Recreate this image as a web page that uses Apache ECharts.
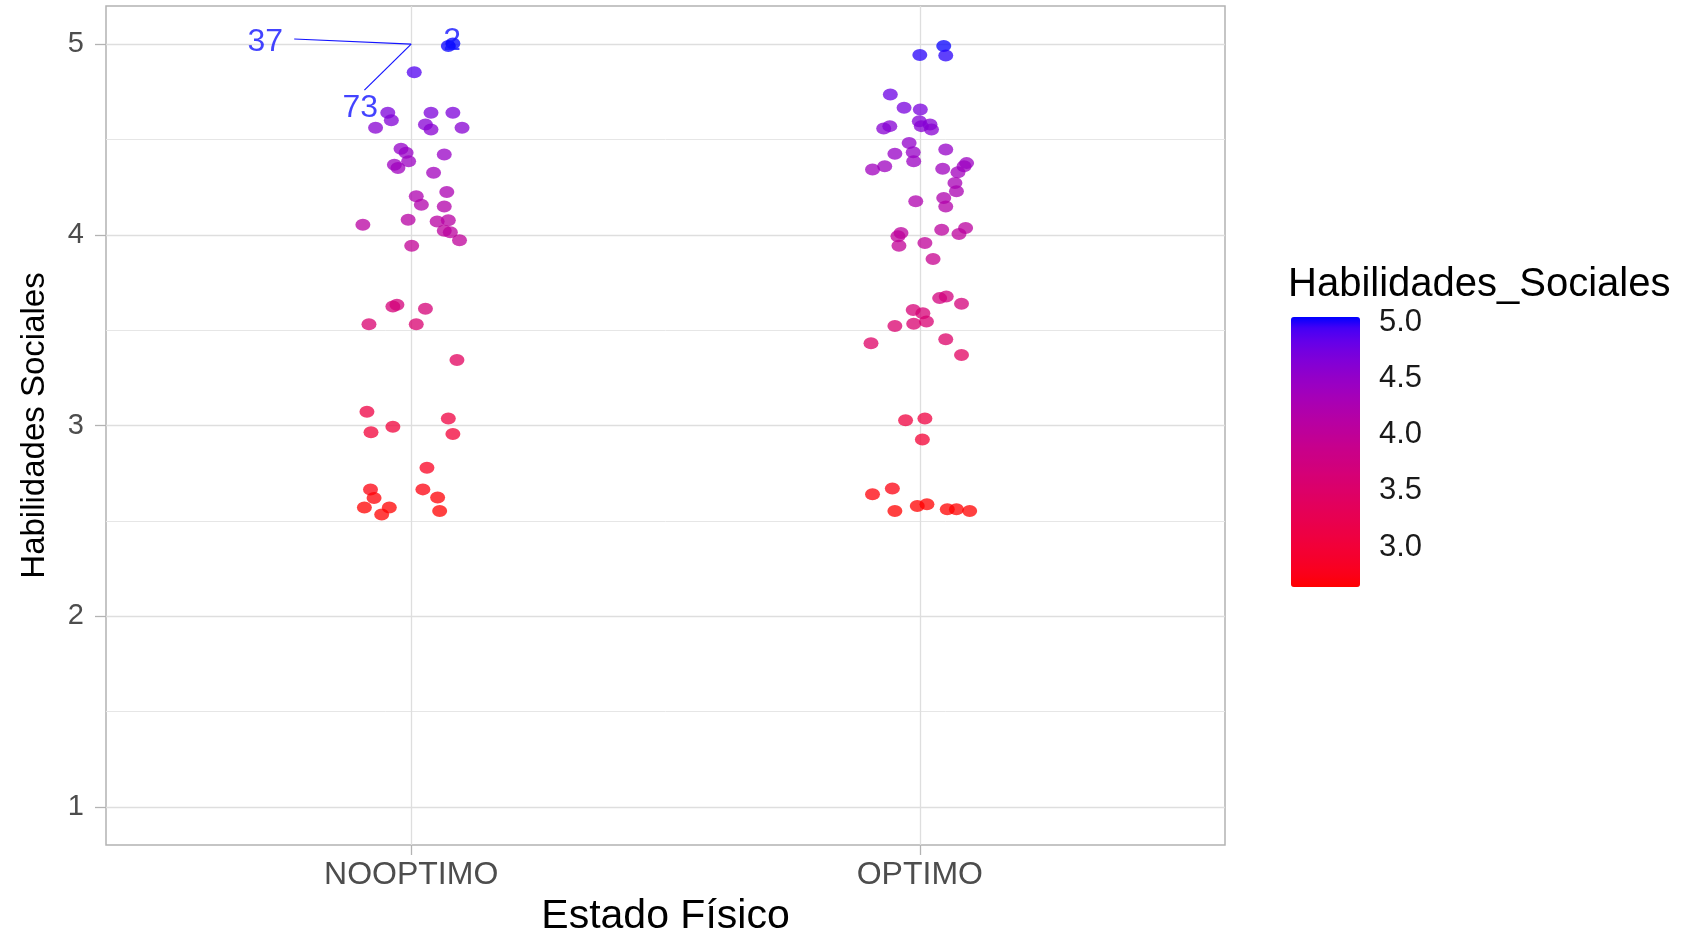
<!DOCTYPE html>
<html>
<head>
<meta charset="utf-8">
<script src="https://cdn.jsdelivr.net/npm/echarts@6/dist/echarts.min.js"></script>
<style>
  html, body { margin: 0; padding: 0; background: #fff; }
  #chart { width: 1695px; height: 933px; }
</style>
</head>
<body>
<div id="chart"></div>
<script>
// categories on the x axis (positions 1 and 2)
const categories = ['NOOPTIMO', 'OPTIMO']
const yTicks = [1, 2, 3, 4, 5]
const yMinorTicks = [1.5, 2.5, 3.5, 4.5]
const legendTicks = [3, 3.5, 4, 4.5, 5]

// jittered points [x, Habilidades_Sociales]
const noOptimo = [
  [1.073, 4.990], [1.082, 5.003], [1.006, 4.853], [0.954, 4.640], [0.961, 4.601],
  [0.930, 4.561], [1.039, 4.640], [1.082, 4.640], [1.028, 4.579], [1.039, 4.552],
  [1.100, 4.561], [0.980, 4.451], [0.990, 4.430], [1.065, 4.421], [0.967, 4.368],
  [0.974, 4.351], [0.995, 4.386], [1.044, 4.325], [1.010, 4.202], [1.020, 4.158],
  [1.070, 4.225], [1.065, 4.149], [0.905, 4.053], [0.994, 4.079], [1.051, 4.070],
  [1.073, 4.076], [1.065, 4.021], [1.077, 4.013], [1.095, 3.971], [1.001, 3.943],
  [0.964, 3.624], [0.972, 3.633], [1.028, 3.612], [0.917, 3.531], [1.010, 3.531],
  [1.090, 3.344], [0.913, 3.072], [0.921, 2.964], [0.964, 2.993], [1.073, 3.037],
  [1.082, 2.955], [1.031, 2.778], [0.920, 2.664], [0.927, 2.620], [1.023, 2.665],
  [1.052, 2.622], [0.908, 2.570], [0.957, 2.570], [0.942, 2.533], [1.056, 2.552]
]
const optimo = [
  [2.047, 4.990], [2.051, 4.941], [2.000, 4.943], [1.942, 4.736], [1.969, 4.666],
  [2.001, 4.657], [1.999, 4.596], [2.003, 4.570], [2.020, 4.579], [2.023, 4.552],
  [1.929, 4.558], [1.941, 4.570], [1.979, 4.482], [1.987, 4.433], [1.988, 4.386],
  [1.951, 4.425], [2.051, 4.447], [1.931, 4.359], [1.907, 4.342], [2.045, 4.347],
  [2.075, 4.328], [2.087, 4.359], [2.092, 4.376], [2.069, 4.272], [2.072, 4.228],
  [1.992, 4.176], [2.047, 4.193], [2.051, 4.149], [1.963, 4.009], [1.957, 3.992],
  [1.959, 3.943], [2.010, 3.957], [2.043, 4.027], [2.077, 4.004], [2.090, 4.036],
  [2.026, 3.873], [2.039, 3.668], [2.052, 3.676], [2.082, 3.638], [1.987, 3.606],
  [2.006, 3.589], [2.013, 3.545], [1.988, 3.533], [1.951, 3.522], [1.904, 3.431],
  [2.051, 3.452], [2.082, 3.370], [1.972, 3.028], [2.010, 3.037], [2.005, 2.927],
  [1.907, 2.640], [1.946, 2.669], [1.951, 2.552], [1.995, 2.578], [2.014, 2.587],
  [2.054, 2.561], [2.072, 2.561], [2.098, 2.552]
]
// labelled observations (ids) at their original position, and where the repel segments start
const labelIds = ['37', '73', '2']
const labelPoints = [[1, 5], [1, 5], [1, 5]]
const segmentStarts = [[0.770, 5.027], [0.908, 4.759]]

const colorMin = 2.6
const colorMax = 5.0

// red -> blue gradient interpolated in Lab, like scale_colour_gradient
function hexToLab(hex) {
  const c = [1, 3, 5].map(i => parseInt(hex.substr(i, 2), 16) / 255)
    .map(v => v <= 0.04045 ? v / 12.92 : Math.pow((v + 0.055) / 1.055, 2.4))
  const X = (0.4124 * c[0] + 0.3576 * c[1] + 0.1805 * c[2]) / 0.95047
  const Y = 0.2126 * c[0] + 0.7152 * c[1] + 0.0722 * c[2]
  const Z = (0.0193 * c[0] + 0.1192 * c[1] + 0.9505 * c[2]) / 1.08883
  const f = t => t > 0.008856 ? Math.cbrt(t) : 7.787 * t + 16 / 116
  return [116 * f(Y) - 16, 500 * (f(X) - f(Y)), 200 * (f(Y) - f(Z))]
}
function labToHex(L, a, b) {
  const fy = (L + 16) / 116, fx = fy + a / 500, fz = fy - b / 200
  const inv = t => t * t * t > 0.008856 ? t * t * t : (t - 16 / 116) / 7.787
  const X = inv(fx) * 0.95047, Y = inv(fy), Z = inv(fz) * 1.08883
  const lin = [
    3.2406 * X - 1.5372 * Y - 0.4986 * Z,
    -0.9689 * X + 1.8758 * Y + 0.0415 * Z,
    0.0557 * X - 0.2040 * Y + 1.0570 * Z,
  ]
  return '#' + lin.map(v => {
    v = v <= 0.0031308 ? 12.92 * v : 1.055 * Math.pow(v, 1 / 2.4) - 0.055
    v = Math.round(Math.min(1, Math.max(0, v)) * 255)
    return v.toString(16).padStart(2, '0')
  }).join('')
}
const lo = hexToLab('#ff0000'), hi = hexToLab('#0000ff')
const gradient = []
for (let i = 0; i <= 24; i++) {
  const t = i / 24
  gradient.push(labToHex(lo[0] + (hi[0] - lo[0]) * t, lo[1] + (hi[1] - lo[1]) * t, lo[2] + (hi[2] - lo[2]) * t))
}

const withColor = pts => pts.map(p => [p[0], p[1], Math.min(colorMax, Math.max(colorMin, p[1]))])

const FONT = 'Liberation Sans, Arial, sans-serif'
const LABEL_BLUE = '#1414ff'
const labelOffsets = [[-146, -2], [-51, 64], [41, -3]]

const gridLines = [
  ...yTicks.map(v => ({ yAxis: v, lineStyle: { color: '#dedede', width: 1.3, type: 'solid' } })),
  ...yMinorTicks.map(v => ({ yAxis: v, lineStyle: { color: '#e6e6e6', width: 1, type: 'solid' } })),
  ...categories.map((c, i) => ({ xAxis: i + 1, lineStyle: { color: '#dedede', width: 1.3, type: 'solid' } })),
]

const chart = echarts.init(document.getElementById('chart'), null, { renderer: 'canvas' })
chart.setOption({
  animation: false,
  textStyle: { fontFamily: FONT },
  title: {
    text: 'Habilidades_Sociales',
    left: 1288,
    top: 265,
    padding: 0,
    textStyle: { fontFamily: FONT, fontSize: 40, fontWeight: 'normal', color: '#000' },
  },
  grid: [
    {
      left: 106, right: 470, top: 6, bottom: 88,
      outerBoundsMode: 'none',
      containLabel: false,
      show: true, borderColor: '#b3b3b3', borderWidth: 1.5, backgroundColor: '#fff',
    },
    { left: 1291, top: 317, width: 69, height: 270, outerBoundsMode: 'none', containLabel: false },
  ],
  xAxis: [
    {
      type: 'value',
      min: 0.4,
      max: 2.6,
      name: 'Estado Físico',
      nameLocation: 'middle',
      nameGap: 51,
      nameTextStyle: { fontSize: 41, color: '#000', fontFamily: FONT },
      axisLine: { show: false },
      axisTick: { show: true, customValues: [1, 2], length: 10, lineStyle: { color: '#b3b3b3', width: 1.3 } },
      axisLabel: {
        customValues: [1, 2],
        formatter: v => categories[Math.round(v) - 1],
        fontSize: 32,
        color: '#4d4d4d',
        margin: 14,
        fontFamily: FONT,
      },
      splitLine: { show: false },
    },
    { gridIndex: 1, type: 'value', min: 0, max: 1, show: false },
  ],
  yAxis: [
    {
      type: 'value',
      min: 0.8,
      max: 5.2,
      name: 'Habilidades Sociales',
      nameLocation: 'middle',
      nameGap: 55,
      nameTextStyle: { fontSize: 33, color: '#000', fontFamily: FONT },
      axisLine: { show: false },
      axisTick: { show: true, customValues: yTicks, length: 11, lineStyle: { color: '#b3b3b3', width: 1.3 } },
      axisLabel: { customValues: yTicks, fontSize: 29, color: '#4d4d4d', margin: 22, fontFamily: FONT },
      splitLine: { show: false },
    },
    {
      gridIndex: 1,
      type: 'value',
      min: colorMin,
      max: colorMax,
      position: 'right',
      axisLine: { show: false },
      axisTick: { show: true, inside: true, length: 12, customValues: legendTicks, lineStyle: { color: '#fff', width: 1.5 } },
      axisLabel: {
        customValues: legendTicks,
        formatter: v => v.toFixed(1),
        fontSize: 31,
        color: '#1a1a1a',
        margin: 19,
        verticalAlign: 'top',
        lineHeight: 10,
        fontFamily: FONT,
      },
      splitLine: { show: false },
    },
    {
      gridIndex: 1,
      type: 'value',
      min: colorMin,
      max: colorMax,
      position: 'left',
      axisLine: { show: false },
      axisTick: { show: true, inside: true, length: 12, customValues: legendTicks, lineStyle: { color: '#fff', width: 1.5 } },
      axisLabel: { show: false },
      splitLine: { show: false },
    },
  ],
  visualMap: {
    type: 'continuous',
    min: colorMin,
    max: colorMax,
    dimension: 2,
    seriesIndex: [1, 2],
    calculable: false,
    orient: 'vertical',
    left: 1291,
    top: 317,
    itemWidth: 69,
    itemHeight: 270,
    padding: 0,
    inRange: { color: gradient },
  },
  series: [
    {
      // panel grid lines
      type: 'scatter',
      data: [],
      z: 1,
      silent: true,
      markLine: {
        silent: true,
        z: 1,
        symbol: 'none',
        label: { show: false },
        animation: false,
        data: gridLines,
      },
    },
    {
      name: 'NOOPTIMO',
      type: 'scatter',
      z: 10,
      symbolSize: [15, 12],
      itemStyle: { opacity: 0.75 },
      data: withColor(noOptimo),
    },
    {
      name: 'OPTIMO',
      type: 'scatter',
      z: 10,
      symbolSize: [15, 12],
      itemStyle: { opacity: 0.75 },
      data: withColor(optimo),
    },
    {
      name: 'ids',
      type: 'scatter',
      z: 12,
      symbolSize: 0,
      itemStyle: { color: 'rgba(0,0,0,0)' },
      data: labelPoints.map((p, i) => ({ value: p, name: labelIds[i] })),
      label: {
        show: true,
        position: 'inside',
        formatter: '{b}',
        fontSize: 32,
        color: LABEL_BLUE,
        fontFamily: FONT,
      },
      labelLayout: params => ({ dx: labelOffsets[params.dataIndex][0], dy: labelOffsets[params.dataIndex][1] }),
      markLine: {
        silent: true,
        symbol: 'none',
        label: { show: false },
        animation: false,
        lineStyle: { color: LABEL_BLUE, width: 1.2, type: 'solid' },
        data: segmentStarts.map((s, i) => [{ coord: s }, { coord: labelPoints[i] }]),
      },
    },
  ],
})
</script>
</body>
</html>
